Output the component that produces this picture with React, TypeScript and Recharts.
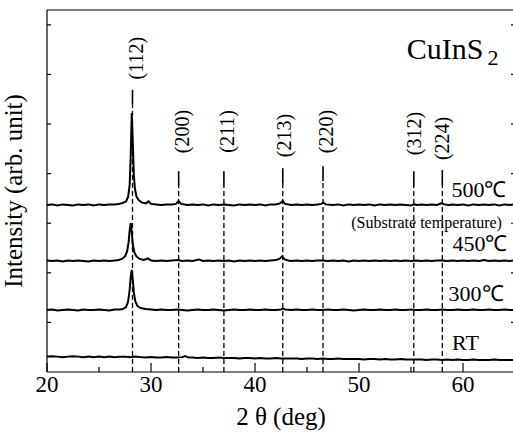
import { ComposedChart, Line, XAxis, YAxis, ReferenceLine, ReferenceDot, Label } from 'recharts'

// 2theta (deg) vs offset intensity (arb. units)
const trace500: [number, number][] = [
    [20, 3.37], [20.5, 3.38], [21, 3.36], [21.5, 3.38], [22, 3.37], [22.5, 3.36], [23, 3.38], [23.5, 3.37],
    [24, 3.38], [24.5, 3.36], [25, 3.38], [25.5, 3.37], [26, 3.38], [26.5, 3.38], [26.9, 3.39], [27.3, 3.41],
    [27.6, 3.44], [27.8, 3.53], [27.95, 3.78], [28.05, 4.35], [28.15, 5.22], [28.25, 4.62], [28.35, 3.98],
    [28.45, 3.7], [28.6, 3.54], [28.8, 3.47], [29.1, 3.42], [29.5, 3.4], [29.75, 3.44], [30, 3.39], [30.5, 3.38],
    [31, 3.37], [31.5, 3.38], [32, 3.38], [32.4, 3.39], [32.65, 3.45], [32.9, 3.39], [33.5, 3.37], [34, 3.38],
    [34.5, 3.37], [35, 3.38], [35.5, 3.36], [36, 3.38], [36.5, 3.37], [37, 3.38], [37.5, 3.37], [38, 3.36],
    [38.5, 3.38], [39, 3.37], [39.5, 3.38], [40, 3.37], [40.5, 3.38], [41, 3.36], [41.5, 3.38], [42, 3.38],
    [42.4, 3.4], [42.65, 3.45], [42.9, 3.39], [43.5, 3.37], [44, 3.38], [44.5, 3.37], [45, 3.38], [45.5, 3.37],
    [46, 3.38], [46.4, 3.39], [46.55, 3.42], [46.8, 3.38], [47.5, 3.37], [48, 3.38], [48.5, 3.36], [49, 3.38],
    [49.5, 3.37], [50, 3.38], [50.5, 3.37], [51, 3.38], [51.5, 3.36], [52, 3.38], [52.5, 3.37], [53, 3.38],
    [53.5, 3.37], [54, 3.38], [54.5, 3.37], [55, 3.36], [55.3, 3.38], [55.6, 3.37], [56, 3.38], [56.5, 3.37],
    [57, 3.38], [57.5, 3.37], [57.9, 3.4], [58.2, 3.38], [58.6, 3.37], [59, 3.38], [59.5, 3.37], [60, 3.38],
    [60.5, 3.36], [61, 3.38], [61.5, 3.37], [62, 3.38], [62.5, 3.37], [63, 3.38], [63.5, 3.36], [64, 3.38],
    [64.5, 3.37], [65, 3.38],
]

const trace450: [number, number][] = [
    [20, 2.25], [20.5, 2.24], [21, 2.25], [21.5, 2.23], [22, 2.25], [22.5, 2.24], [23, 2.25], [23.5, 2.24],
    [24, 2.23], [24.5, 2.25], [25, 2.24], [25.5, 2.25], [26, 2.24], [26.5, 2.25], [26.9, 2.26], [27.2, 2.28],
    [27.5, 2.33], [27.7, 2.43], [27.85, 2.62], [27.95, 2.86], [28.05, 3.0], [28.15, 2.82], [28.25, 2.57],
    [28.4, 2.41], [28.6, 2.33], [28.9, 2.28], [29.3, 2.26], [29.7, 2.29], [30, 2.25], [30.5, 2.24], [31, 2.25],
    [31.5, 2.24], [32, 2.25], [32.6, 2.26], [33, 2.24], [33.5, 2.25], [34, 2.24], [34.6, 2.27], [35, 2.24],
    [35.5, 2.25], [36, 2.24], [36.5, 2.25], [37, 2.24], [37.5, 2.25], [38, 2.23], [38.5, 2.25], [39, 2.24],
    [39.5, 2.25], [40, 2.24], [40.5, 2.25], [41, 2.24], [41.5, 2.25], [42, 2.26], [42.35, 2.28], [42.6, 2.33],
    [42.85, 2.27], [43.2, 2.25], [43.5, 2.24], [44, 2.25], [44.5, 2.24], [45, 2.25], [45.5, 2.24], [46, 2.25],
    [46.5, 2.25], [47, 2.24], [47.5, 2.25], [48, 2.24], [48.5, 2.25], [49, 2.23], [49.5, 2.25], [50, 2.24],
    [50.5, 2.25], [51, 2.24], [51.5, 2.25], [52, 2.24], [52.5, 2.25], [53, 2.24], [53.5, 2.25], [54, 2.24],
    [54.5, 2.25], [55, 2.24], [55.5, 2.25], [56, 2.24], [56.5, 2.25], [57, 2.24], [57.5, 2.25], [58, 2.25],
    [58.5, 2.24], [59, 2.25], [59.5, 2.24], [60, 2.25], [60.5, 2.24], [61, 2.25], [61.6, 2.24], [62, 2.26],
    [62.5, 2.24], [63, 2.25], [63.5, 2.24], [64, 2.25], [64.5, 2.24], [65, 2.25],
]

const trace300: [number, number][] = [
    [20, 1.25], [20.5, 1.26], [21, 1.24], [21.5, 1.25], [22, 1.26], [22.5, 1.25], [23, 1.24], [23.5, 1.26],
    [24, 1.25], [24.5, 1.25], [25, 1.26], [25.5, 1.25], [26, 1.24], [26.5, 1.26], [27, 1.26], [27.3, 1.27],
    [27.6, 1.31], [27.8, 1.42], [27.95, 1.66], [28.05, 1.92], [28.15, 2.06], [28.25, 1.86], [28.35, 1.6],
    [28.5, 1.42], [28.7, 1.33], [29, 1.29], [29.5, 1.27], [30, 1.26], [30.5, 1.25], [31, 1.26], [31.5, 1.25],
    [32, 1.25], [32.5, 1.26], [33, 1.25], [33.5, 1.24], [34, 1.25], [34.5, 1.26], [35, 1.25], [35.5, 1.25],
    [36, 1.26], [36.5, 1.25], [37, 1.24], [37.5, 1.25], [38, 1.26], [38.5, 1.25], [39, 1.25], [39.5, 1.26],
    [40, 1.25], [40.5, 1.25], [41, 1.26], [41.5, 1.25], [42, 1.25], [42.5, 1.26], [42.7, 1.28], [42.9, 1.26],
    [43.5, 1.25], [44, 1.26], [44.5, 1.25], [45, 1.25], [45.5, 1.26], [46, 1.25], [46.5, 1.25], [47, 1.26],
    [47.5, 1.25], [48, 1.25], [48.5, 1.26], [49, 1.25], [49.5, 1.24], [50, 1.25], [50.5, 1.26], [51, 1.25],
    [51.5, 1.25], [52, 1.26], [52.5, 1.25], [53, 1.25], [53.5, 1.26], [54, 1.25], [54.5, 1.25], [55, 1.26],
    [55.5, 1.25], [56, 1.25], [56.5, 1.26], [57, 1.25], [57.5, 1.25], [58, 1.26], [58.5, 1.25], [59, 1.25],
    [59.5, 1.26], [60, 1.25], [60.5, 1.25], [61, 1.26], [61.5, 1.25], [62, 1.25], [62.5, 1.26], [63, 1.25],
    [63.5, 1.25], [64, 1.26], [64.5, 1.25], [65, 1.25],
]

const traceRT: [number, number][] = [
    [20, 0.31], [20.5, 0.32], [21, 0.31], [21.5, 0.3], [22, 0.31], [22.5, 0.32], [23, 0.31], [23.5, 0.3],
    [24, 0.31], [24.5, 0.3], [25, 0.31], [25.5, 0.3], [26, 0.31], [26.5, 0.3], [27, 0.31], [27.5, 0.31],
    [28, 0.3], [28.5, 0.31], [29, 0.3], [29.5, 0.29], [30, 0.3], [30.5, 0.29], [31, 0.29], [31.5, 0.3],
    [32, 0.29], [32.5, 0.29], [33, 0.3], [33.3, 0.32], [33.6, 0.29], [34, 0.29], [34.5, 0.28], [35, 0.29],
    [35.5, 0.28], [36, 0.28], [36.5, 0.29], [37, 0.28], [37.5, 0.28], [38, 0.28], [38.5, 0.27], [39, 0.28],
    [39.5, 0.28], [40, 0.27], [40.5, 0.28], [41, 0.27], [41.5, 0.27], [42, 0.28], [42.5, 0.27], [43, 0.27],
    [43.5, 0.27], [44, 0.27], [44.5, 0.26], [45, 0.27], [45.5, 0.27], [46, 0.26], [46.5, 0.27], [47, 0.26],
    [47.5, 0.26], [48, 0.27], [48.5, 0.26], [49, 0.26], [49.5, 0.26], [50, 0.26], [50.5, 0.25], [51, 0.26],
    [51.5, 0.26], [52, 0.25], [52.5, 0.26], [53, 0.25], [53.5, 0.25], [54, 0.26], [54.5, 0.25], [55, 0.25],
    [55.5, 0.25], [56, 0.25], [56.5, 0.24], [57, 0.25], [57.5, 0.25], [58, 0.24], [58.5, 0.25], [59, 0.24],
    [59.5, 0.25], [60, 0.24], [60.5, 0.24], [61, 0.25], [61.5, 0.24], [62, 0.24], [62.5, 0.24], [63, 0.25],
    [63.5, 0.24], [64, 0.24], [64.5, 0.24], [65, 0.24],
]

const traces = [trace500, trace450, trace300, traceRT]

// reflections
const peakNames = ['(112)', '(200)', '(211)', '(213)', '(220)', '(312)', '(224)']
const peakPos = [28.22, 32.66, 37.01, 42.67, 46.54, 55.27, 58.01]
const peakTop = [5.69, 4.05, 4.05, 4.11, 4.15, 4.05, 4.07]
const peakLabelX = [28.6, 33.0, 37.31, 42.83, 46.86, 55.3, 58.01]
const peakLabelY = [6.33, 4.85, 4.85, 4.77, 4.85, 4.81, 4.71]

const sampleNames = ['500℃', '450℃', '300℃', 'RT']
const sampleLabelX = [61.53, 61.63, 61.25, 60.24]
const sampleLabelY = [3.69, 2.59, 1.59, 0.595]

const xTicks = [20, 25, 30, 35, 40, 45, 50, 55, 60, 65]
const yTicks = [1, 2, 3, 4, 5, 6, 7]

const FONT = '"Liberation Serif", "Times New Roman", serif'

function BottomTick(props: any) {
    const { x, y, payload } = props
    const major = payload.value % 10 === 0
    return (
        <g>
            <line x1={x} x2={x} y1={y} y2={y - (major ? 9 : 5)} stroke="#000" strokeWidth={1.2} />
            {major && payload.value < 65 && (
                <text x={x} y={y + 20} textAnchor="middle" fontFamily={FONT} fontSize={23} fill="#000">
                    {payload.value}
                </text>
            )}
        </g>
    )
}

function TopTick(props: any) {
    const { x, y, payload } = props
    const major = payload.value % 10 === 0
    return <line x1={x} x2={x} y1={y} y2={y + (major ? 6 : 5)} stroke="#000" strokeWidth={1.2} />
}

function LeftTick(props: any) {
    const { x, y } = props
    return <line x1={x} x2={x + 4} y1={y} y2={y} stroke="#000" strokeWidth={1.2} />
}

function RightTick(props: any) {
    const { x, y } = props
    return <line x1={x} x2={x - 4} y1={y} y2={y} stroke="#000" strokeWidth={1.2} />
}

export default function App() {
    return (
        <div style={{ position: 'absolute', left: 0, top: 0, width: 513, height: 432, overflow: 'hidden', background: '#fff' }}>
            <ComposedChart width={530} height={432} margin={{ top: 9, right: 14, bottom: 59, left: 46 }}>
                <XAxis
                    type="number"
                    dataKey="0"
                    domain={[20, 65]}
                    ticks={xTicks}
                    interval={0}
                    height={1}
                    tickSize={0}
                    tickMargin={0}
                    tickLine={false}
                    tick={<BottomTick />}
                    axisLine={{ stroke: '#000', strokeWidth: 1.2 }}
                    allowDataOverflow
                >
                    <Label
                        content={(p: any) => {
                            const vb = p.viewBox
                            return (
                                <text x={vb.x + vb.width / 2} y={vb.y + 53} textAnchor="middle" fontFamily={FONT} fontSize={25} fill="#000">
                                    2 θ (deg)
                                </text>
                            )
                        }}
                    />
                </XAxis>
                <XAxis
                    xAxisId="top"
                    orientation="top"
                    type="number"
                    domain={[20, 65]}
                    ticks={xTicks}
                    interval={0}
                    height={1}
                    tickSize={0}
                    tickMargin={0}
                    tickLine={false}
                    tick={<TopTick />}
                    axisLine={{ stroke: '#000', strokeWidth: 1.2 }}
                    allowDataOverflow
                />
                <YAxis
                    type="number"
                    domain={[0, 7.3]}
                    ticks={yTicks}
                    interval={0}
                    width={1}
                    tickSize={0}
                    tickMargin={0}
                    tickLine={false}
                    tick={<LeftTick />}
                    axisLine={{ stroke: '#000', strokeWidth: 1.2 }}
                    allowDataOverflow
                >
                    <Label
                        content={(p: any) => {
                            const vb = p.viewBox
                            const cx = 22
                            const cy = vb.y + vb.height / 2
                            return (
                                <text x={cx} y={cy} transform={`rotate(-90 ${cx} ${cy})`} textAnchor="middle" fontFamily={FONT} fontSize={25} fill="#000">
                                    Intensity (arb. unit)
                                </text>
                            )
                        }}
                    />
                </YAxis>
                <YAxis
                    yAxisId="right"
                    orientation="right"
                    type="number"
                    domain={[0, 7.3]}
                    ticks={yTicks}
                    interval={0}
                    width={1}
                    tickSize={0}
                    tickMargin={0}
                    tickLine={false}
                    tick={<RightTick />}
                    axisLine={{ stroke: '#000', strokeWidth: 1.2 }}
                    allowDataOverflow
                />

                {peakPos.map((p, i) => (
                    <ReferenceLine
                        key={`d-${i}`}
                        segment={[{ x: p, y: 0 }, { x: p, y: peakTop[i] - 0.3 }]}
                        stroke="#000"
                        strokeWidth={1.3}
                        strokeDasharray="5 3"
                    />
                ))}
                {peakPos.map((p, i) => (
                    <ReferenceLine
                        key={`s-${i}`}
                        segment={[{ x: p, y: peakTop[i] - 0.3 }, { x: p, y: peakTop[i] }]}
                        stroke="#000"
                        strokeWidth={1.6}
                    />
                ))}

                {traces.map((t, i) => (
                    <Line
                        key={`t-${i}`}
                        data={t.map(([x, y]) => ({ 0: x, y }))}
                        dataKey="y"
                        type="linear"
                        stroke="#000"
                        strokeWidth={2}
                        dot={false}
                        activeDot={false}
                        isAnimationActive={false}
                    />
                ))}

                {peakNames.map((name, i) => (
                    <ReferenceDot
                        key={`pl-${i}`}
                        x={peakLabelX[i]}
                        y={peakLabelY[i]}
                        r={0}
                        fill="none"
                        stroke="none"
                        label={(p: any) => {
                            const cx = p.viewBox.x
                            const cy = p.viewBox.y
                            return (
                                <text x={cx} y={cy} transform={`rotate(-90 ${cx} ${cy})`} textAnchor="middle" dominantBaseline="central" fontFamily={FONT} fontSize={20} fill="#000">
                                    {name}
                                </text>
                            )
                        }}
                    />
                ))}

                {sampleNames.map((name, i) => (
                    <ReferenceDot
                        key={`sl-${i}`}
                        x={sampleLabelX[i]}
                        y={sampleLabelY[i]}
                        r={0}
                        fill="none"
                        stroke="none"
                        label={(p: any) => (
                            <text x={p.viewBox.x} y={p.viewBox.y} textAnchor="middle" dominantBaseline="central" fontFamily={FONT} fontSize={22} fill="#000">
                                {name}
                            </text>
                        )}
                    />
                ))}

                <ReferenceDot
                    x={56.5}
                    y={3.01}
                    r={0}
                    fill="none"
                    stroke="none"
                    label={(p: any) => (
                        <text x={p.viewBox.x} y={p.viewBox.y} textAnchor="middle" dominantBaseline="central" fontFamily={FONT} fontSize={16} fill="#000">
                            (Substrate temperature)
                        </text>
                    )}
                />

                <ReferenceDot
                    x={59.0}
                    y={6.54}
                    r={0}
                    fill="none"
                    stroke="none"
                    label={(p: any) => (
                        <text x={p.viewBox.x} y={p.viewBox.y + 11} textAnchor="middle" fontFamily={FONT} fill="#000">
                            <tspan fontSize={30}>CuInS</tspan>
                            <tspan fontSize={22} dx={4} dy={6}>2</tspan>
                        </text>
                    )}
                />
            </ComposedChart>
        </div>
    )
}
